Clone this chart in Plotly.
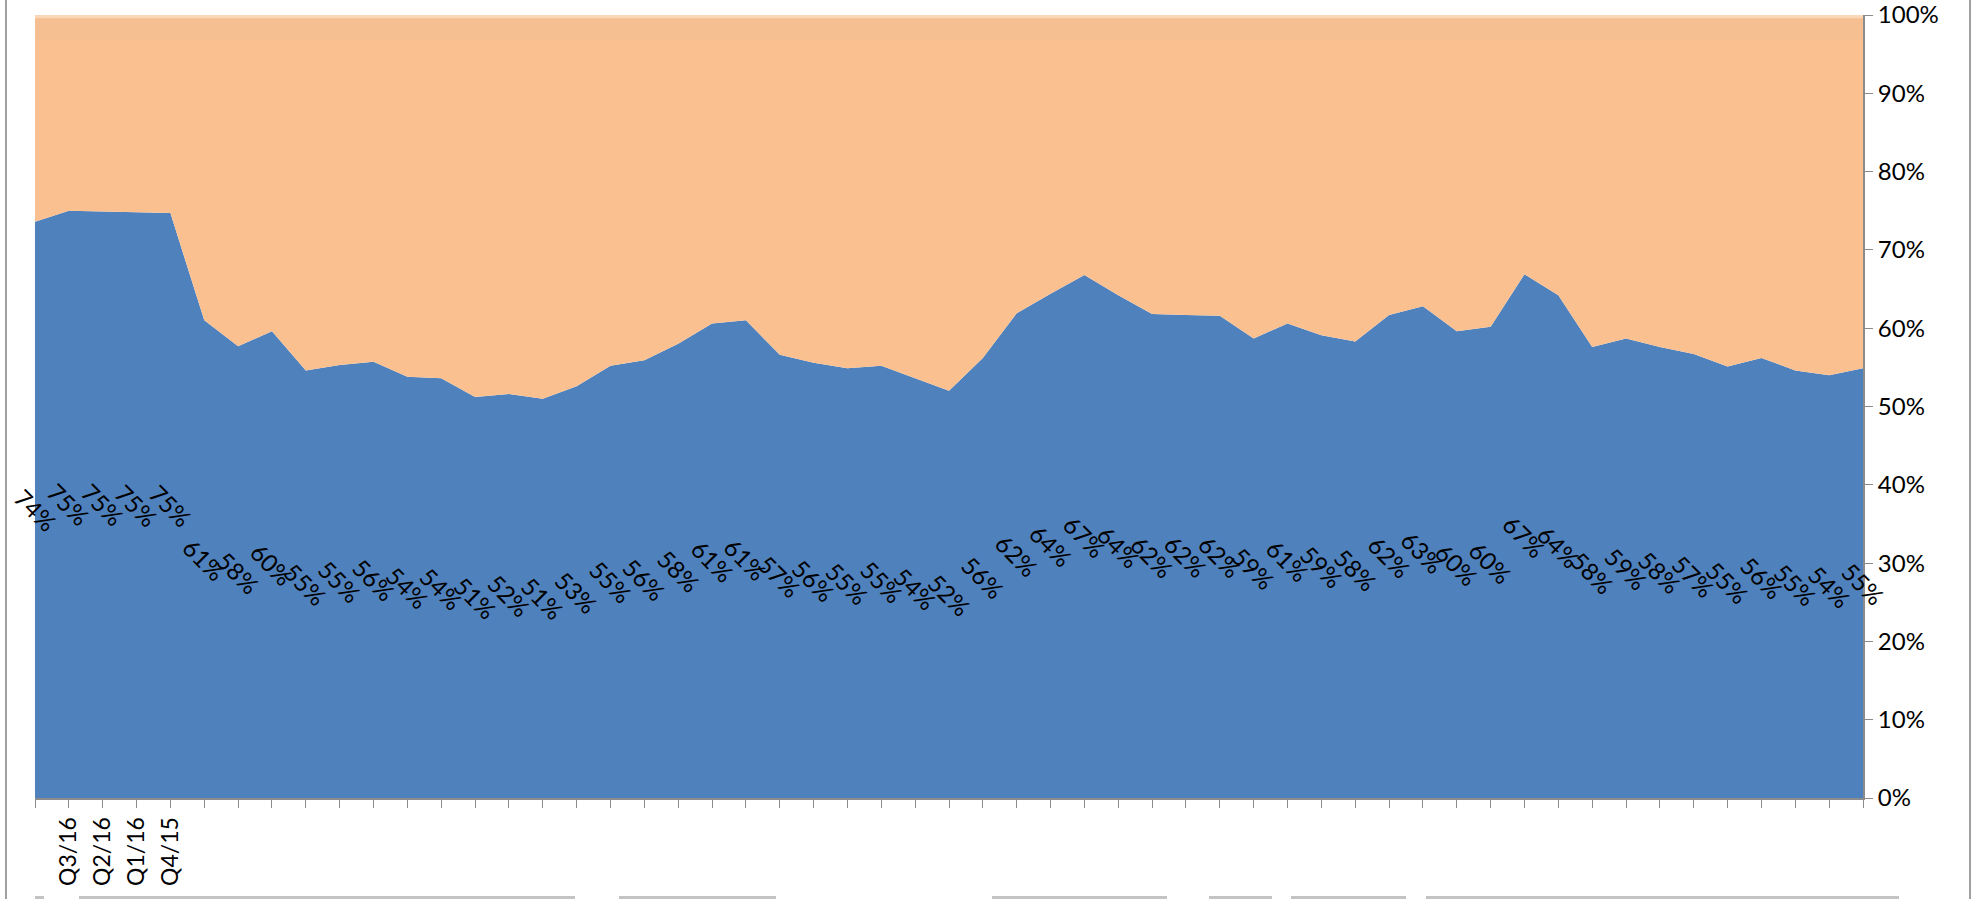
import plotly.graph_objects as go

# Quarterly share of the two groups (percent of total), oldest on the right
blue_share = [
    73.6, 75.0, 74.9, 74.8, 74.7, 61.0, 57.7, 59.6, 54.6, 55.3,
    55.7, 53.8, 53.6, 51.2, 51.6, 51.0, 52.6, 55.2, 55.9, 58.0,
    60.6, 61.0, 56.6, 55.6, 54.9, 55.2, 53.6, 52.0, 56.2, 61.9,
    64.4, 66.8, 64.2, 61.8, 61.7, 61.6, 58.7, 60.6, 59.1, 58.3,
    61.7, 62.8, 59.6, 60.2, 66.9, 64.2, 57.6, 58.7, 57.6, 56.7,
    55.1, 56.2, 54.6, 54.0, 54.9,
]
orange_share = [
    26.4, 25.0, 25.1, 25.2, 25.3, 39.0, 42.3, 40.4, 45.4, 44.7,
    44.3, 46.2, 46.4, 48.8, 48.4, 49.0, 47.4, 44.8, 44.1, 42.0,
    39.4, 39.0, 43.4, 44.4, 45.1, 44.8, 46.4, 48.0, 43.8, 38.1,
    35.6, 33.2, 35.8, 38.2, 38.3, 38.4, 41.3, 39.4, 40.9, 41.7,
    38.3, 37.2, 40.4, 39.8, 33.1, 35.8, 42.4, 41.3, 42.4, 43.3,
    44.9, 43.8, 45.4, 46.0, 45.1,
]
quarter_labels = ["", "Q3/16", "Q2/16", "Q1/16", "Q4/15"] + [""] * 50
y_ticks = [0, 10, 20, 30, 40, 50, 60, 70, 80, 90, 100]

W, H = 1971, 899
ML, MR, MT, MB = 35, 108, 15, 101
PW, PH = W - ML - MR, H - MT - MB

BLUE = "#4F81BD"
ORANGE = "#FAC090"
AXIS = "#8C8C8C"
FONT = "Lato, 'Open Sans', sans-serif"

x = list(range(len(blue_share)))

fig = go.Figure()
fig.add_trace(go.Scatter(
    x=x, y=blue_share, stackgroup="share", mode="lines",
    line=dict(width=0, color=BLUE), fillcolor=BLUE, hoverinfo="skip",
))
fig.add_trace(go.Scatter(
    x=x, y=orange_share, stackgroup="share", mode="lines",
    line=dict(width=0, color=ORANGE), fillcolor=ORANGE, hoverinfo="skip",
))

# Data labels: centred in the lower band, rotated 45 degrees
annotations = []
for xi, v in zip(x, blue_share):
    annotations.append(dict(
        x=xi, y=v / 2, xref="x", yref="y",
        text=f"{int(v + 0.5)}%", showarrow=False, textangle=45,
        font=dict(family=FONT, size=24, color="black"),
        xanchor="center", yanchor="middle",
    ))


def px_x(px):
    return (px - ML) / PW


def px_y(py):
    return (H - MB - py) / PH


shapes = []
# faint band along the top edge of the plot area
shapes.append(dict(type="rect", xref="x", yref="y", x0=0, x1=len(x) - 1,
                   y0=96.8, y1=100, line=dict(width=0),
                   fillcolor="rgba(190,180,170,0.08)", layer="above"))
shapes.append(dict(type="rect", xref="x", yref="y", x0=0, x1=len(x) - 1,
                   y0=99.6, y1=100, line=dict(width=0),
                   fillcolor="rgba(255,240,220,0.5)", layer="above"))
# outer frame lines of the chart object
for bx in (6, 1970):
    shapes.append(dict(type="line", xref="paper", yref="paper",
                       x0=px_x(bx), x1=px_x(bx), y0=px_y(0), y1=px_y(H),
                       line=dict(color="#A0A0A0", width=2)))
# grey strips along the bottom edge
for a, b in [(35, 44), (79, 575), (619, 776), (992, 1167),
             (1209, 1272), (1291, 1406), (1426, 1899)]:
    shapes.append(dict(type="rect", xref="paper", yref="paper",
                       x0=px_x(a), x1=px_x(b), y0=px_y(899), y1=px_y(896),
                       line=dict(width=0), fillcolor="#C4C4C4"))

fig.update_layout(
    width=W, height=H,
    margin=dict(l=ML, r=MR, t=MT, b=MB),
    paper_bgcolor="white", plot_bgcolor="white",
    showlegend=False,
    font=dict(family=FONT, size=24, color="black"),
    annotations=annotations,
    shapes=shapes,
    xaxis=dict(
        range=[0, len(x) - 1], tickmode="array", tickvals=x,
        ticktext=quarter_labels, tickangle=-90,
        showgrid=False, zeroline=False,
        showline=True, linecolor=AXIS, linewidth=2,
        ticks="outside", ticklen=8, tickcolor=AXIS, tickwidth=1,
        tickfont=dict(family=FONT, size=23, color="black"),
        automargin=False,
    ),
    yaxis=dict(
        range=[0, 100], side="right", tickmode="array", tickvals=y_ticks,
        ticktext=[f"{t}%" for t in y_ticks],
        showgrid=False, zeroline=False,
        showline=True, linecolor=AXIS, linewidth=2,
        ticks="outside", ticklen=8, tickcolor=AXIS, tickwidth=1,
        tickfont=dict(family=FONT, size=24, color="black"),
        ticklabeloverflow="allow",
        automargin=False,
    ),
)

fig.write_html("out.html")
